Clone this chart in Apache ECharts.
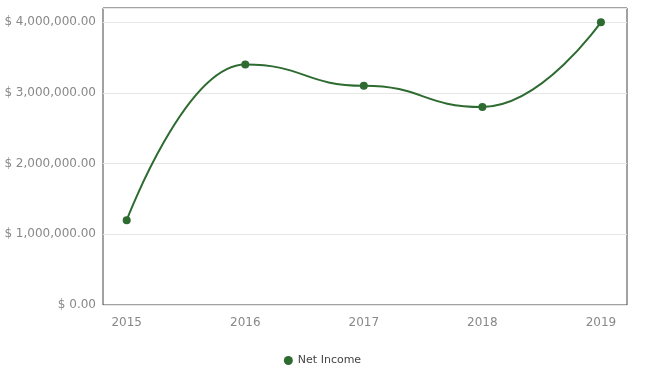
<!DOCTYPE html>
<html>
<head>
<meta charset="utf-8">
<script src="https://cdn.jsdelivr.net/npm/echarts@6/dist/echarts.min.js"></script>
<style>
  html, body { margin: 0; padding: 0; background: #fff; }
  #main { width: 645px; height: 377px; }
</style>
</head>
<body>
<div id="main"></div>
<script>
// data
var years = [2015, 2016, 2017, 2018, 2019];
var netIncome = [1200000, 3400000, 3100000, 2800000, 4000000];
var seriesName = 'Net Income';

var chart = echarts.init(document.getElementById('main'));

function money(v) {
  return '$ ' + v.toLocaleString('en-US', { minimumFractionDigits: 2, maximumFractionDigits: 2 });
}

var option = {
  animation: false,
  textStyle: { fontFamily: 'DejaVu Sans' },
  grid: {
    left: 103,
    right: 18,
    top: 8,
    bottom: 72,
    show: true,
    borderColor: '#444',
    borderWidth: 1
  },
  legend: {
    bottom: 6,
    left: 'center',
    icon: 'circle',
    itemWidth: 9,
    itemHeight: 9,
    itemGap: 8,
    textStyle: { color: '#444', fontSize: 11, fontFamily: 'DejaVu Sans' },
    data: [seriesName]
  },
  xAxis: {
    type: 'value',
    min: 2014.8,
    max: 2019.22,
    splitLine: { show: false },
    axisTick: { show: false },
    axisLine: { show: false },
    axisLabel: {
      color: '#888',
      fontSize: 12,
      fontFamily: 'DejaVu Sans',
      margin: 12,
      showMinLabel: false,
      showMaxLabel: false,
      formatter: function (v) { return v % 1 === 0 ? String(v) : ''; }
    }
  },
  yAxis: {
    type: 'value',
    min: 0,
    max: 4200000,
    interval: 1000000,
    axisLine: { show: false },
    axisTick: { show: false },
    splitLine: { lineStyle: { color: '#e6e6e6' } },
    axisLabel: {
      color: '#888',
      fontSize: 12,
      fontFamily: 'DejaVu Sans',
      margin: 7,
      formatter: function (v) { return v % 1000000 === 0 ? money(v) : ''; }
    }
  },
  series: [{
    name: seriesName,
    type: 'line',
    smooth: 0.5,
    smoothMonotone: 'x',
    symbol: 'circle',
    symbolSize: 8,
    data: years.map(function (y, i) { return [y, netIncome[i]]; }),
    itemStyle: { color: '#2d6b30' },
    lineStyle: { color: '#2d6b30', width: 2 }
  }]
};

chart.setOption(option);
</script>
</body>
</html>
